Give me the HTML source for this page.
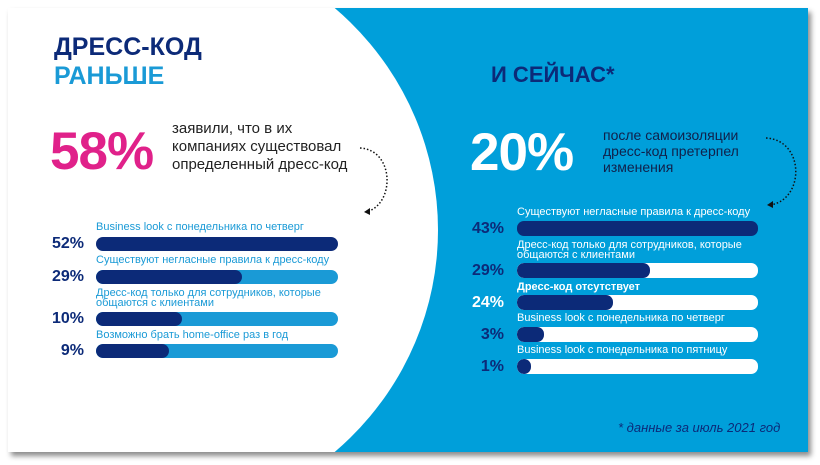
<!DOCTYPE html>
<html><head><meta charset="utf-8"><style>
*{margin:0;padding:0;box-sizing:border-box}
html,body{width:820px;height:465px;overflow:hidden}
body{background:#fff;position:relative;font-family:"Liberation Sans",sans-serif}
.card{position:absolute;left:8px;top:8px;width:800px;height:444px;background:#009fda;overflow:hidden;box-shadow:3px 4px 5px rgba(0,0,0,.45)}
.circ{position:absolute;left:-170px;top:-72px;width:600px;height:588px;border-radius:50%;background:#fff}
.t{position:absolute;white-space:nowrap}
.bar{position:absolute;height:14px;border-radius:7px;overflow:hidden}
.bar i{position:absolute;left:0;top:0;bottom:0;border-radius:7px;background:#0c2a78}
.pl{position:absolute;width:60px;text-align:right;font-weight:bold;font-size:16px;color:#0c2a78}
.lb{position:absolute;font-size:11px;line-height:10px;white-space:nowrap}
</style></head><body>
<div class="card"><div class="circ"></div></div>
<div class="t" style="left:54px;top:33px;font-size:25px;font-weight:bold;color:#0c2a78">ДРЕСС-КОД</div>
<div class="t" style="left:54px;top:62px;font-size:25px;font-weight:bold;color:#1a9ad6">РАНЬШЕ</div>
<div class="t" style="left:491px;top:62px;font-size:22px;font-weight:bold;color:#0c2a78">И СЕЙЧАС*</div>
<div class="t" style="left:50px;top:121px;font-size:53px;font-weight:bold;color:#e0218a;letter-spacing:-1px">58%</div>
<div class="t" style="left:172px;top:120px;font-size:15px;line-height:18px;color:#222">заявили, что в их<br>компаниях существовал<br>определенный дресс-код</div>
<div class="t" style="left:470px;top:122px;font-size:53px;font-weight:bold;color:#fff;letter-spacing:-1px">20%</div>
<div class="t" style="left:603px;top:127px;font-size:14px;line-height:16px;color:#10204a">после самоизоляции<br>дресс-код претерпел<br>изменения</div>
<svg style="position:absolute;left:0;top:0" width="820" height="465">
<path d="M360,148 C395,150 395,205 366,212" fill="none" stroke="#111" stroke-width="1.5" stroke-dasharray="1.5,2"/>
<path d="M364,212 l6,-4 l0,7z" fill="#111"/>
<path d="M766,138 C805,140 805,200 770,205" fill="none" stroke="#111" stroke-width="1.5" stroke-dasharray="1.5,2"/>
<path d="M767,205 l6,-4 l0,7z" fill="#111"/>
</svg>
<div class="lb" style="left:96px;top:222px;color:#1a9ad6">Business look с понедельника по четверг</div>
<div class="pl" style="left:24px;top:235px">52%</div>
<div class="bar" style="left:96px;top:237px;width:242px;background:#0c2a78"></div>
<div class="lb" style="left:96px;top:255px;color:#1a9ad6">Существуют негласные правила к дресс-коду</div>
<div class="pl" style="left:24px;top:268px">29%</div>
<div class="bar" style="left:96px;top:270px;width:242px;background:#1a9ad6"><i style="width:146px"></i></div>
<div class="lb" style="left:96px;top:288px;color:#1a9ad6">Дресс-код только для сотрудников, которые<br>общаются с клиентами</div>
<div class="pl" style="left:24px;top:310px">10%</div>
<div class="bar" style="left:96px;top:312px;width:242px;background:#1a9ad6"><i style="width:86px"></i></div>
<div class="lb" style="left:96px;top:330px;color:#1a9ad6">Возможно брать home-office раз в год</div>
<div class="pl" style="left:24px;top:342px">9%</div>
<div class="bar" style="left:96px;top:344px;width:242px;background:#1a9ad6"><i style="width:73px"></i></div>
<div class="lb" style="left:517px;top:207px;color:#fff">Существуют негласные правила к дресс-коду</div>
<div class="pl" style="left:444px;top:220px">43%</div>
<div class="bar" style="left:517px;top:221px;width:241px;height:15px;background:#0c2a78"></div>
<div class="lb" style="left:517px;top:240px;color:#fff">Дресс-код только для сотрудников, которые<br>общаются с клиентами</div>
<div class="pl" style="left:444px;top:262px">29%</div>
<div class="bar" style="left:517px;top:263px;width:241px;height:15px;background:#fff"><i style="width:133px"></i></div>
<div class="lb" style="left:517px;top:282px;color:#fff;font-weight:bold">Дресс-код отсутствует</div>
<div class="pl" style="left:444px;top:294px;color:#fff">24%</div>
<div class="bar" style="left:517px;top:295px;width:241px;height:15px;background:#fff"><i style="width:96px"></i></div>
<div class="lb" style="left:517px;top:313px;color:#fff">Business look с понедельника по четверг</div>
<div class="pl" style="left:444px;top:326px">3%</div>
<div class="bar" style="left:517px;top:327px;width:241px;height:15px;background:#fff"><i style="width:27px"></i></div>
<div class="lb" style="left:517px;top:345px;color:#fff">Business look с понедельника по пятницу</div>
<div class="pl" style="left:444px;top:358px">1%</div>
<div class="bar" style="left:517px;top:359px;width:241px;height:15px;background:#fff"><i style="width:14px"></i></div>
<div class="t" style="left:618px;top:420px;font-size:13px;font-style:italic;color:#0c2a78">* данные за июль 2021 год</div>
</body></html>
